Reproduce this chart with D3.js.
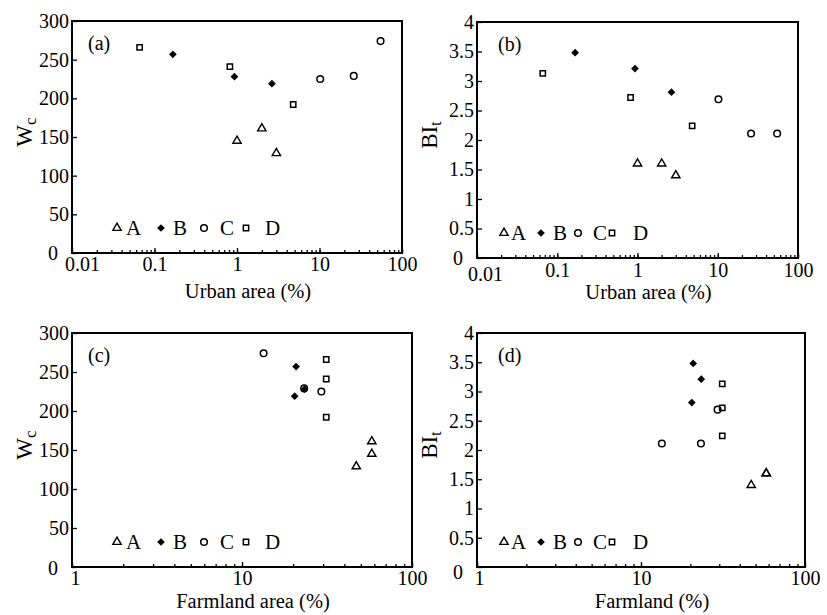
<!DOCTYPE html>
<html>
<head>
<meta charset="utf-8">
<script src="https://cdn.jsdelivr.net/npm/d3@7"></script>
<style>
body { margin: 0; background: #fff; }
text { font-family: "Liberation Serif", serif; }
</style>
</head>
<body>
<svg width="827" height="615"></svg>
<script>
// site groups
var groups = ["A", "B", "C", "D"];

// urban area (%) for the three sites of each group
var urbanA = [1.0, 2.0, 3.0];
var urbanB = [0.167, 0.93, 2.65];
var urbanC = [10.2, 26, 55];
var urbanD = [0.066, 0.82, 4.8];

// farmland area (%)
var farmA = [58, 58, 47];
var farmB = [20.8, 23.3, 20.4];
var farmC = [29.3, 23.2, 13.4];
var farmD = [31.3, 31.3, 31.3];

// Wc
var wcA = [145, 161, 129];
var wcB = [257, 228, 219];
var wcC = [225, 229, 274];
var wcD = [266, 241, 192];

// BIt
var bitA = [1.6, 1.6, 1.4];
var bitB = [3.48, 3.21, 2.81];
var bitC = [2.69, 2.11, 2.11];
var bitD = [3.13, 2.72, 2.24];

// axis ticks
var urbanTicks = [0.01, 0.1, 1, 10, 100];
var farmTicks = [1, 10, 100];
var wcTicks = [0, 50, 100, 150, 200, 250, 300];
var bitTicks = [0, 0.5, 1, 1.5, 2, 2.5, 3, 3.5, 4];

var urban = {A: urbanA, B: urbanB, C: urbanC, D: urbanD};
var farm = {A: farmA, B: farmB, C: farmC, D: farmD};
var wc = {A: wcA, B: wcB, C: wcC, D: wcD};
var bit = {A: bitA, B: bitB, C: bitC, D: bitD};

var svg = d3.select("svg");
var FONT = "'Liberation Serif', serif";

var panels = [
    {tag: "(a)", l: 72, t: 21, r: 402, b: 253, xs: urban, ys: wc, xdom: [0.01, 100], xticks: urbanTicks,
     ymax: 300, yticks: wcTicks, xtitle: "Urban area (%)", ymain: "W", ysub: "c", xpad: 4, firstDx: 10, firstDy: 0, zeroDy: 0, titleDy: 45, col: 0},
    {tag: "(b)", l: 477, t: 22, r: 798, b: 258, xs: urban, ys: bit, xdom: [0.01, 100], xticks: urbanTicks,
     ymax: 4, yticks: bitTicks, xtitle: "Urban area (%)", ymain: "BI", ysub: "t", xpad: 5, firstDx: 8, firstDy: 4, zeroDy: 0, titleDy: 41, col: 1},
    {tag: "(c)", l: 72, t: 333, r: 412, b: 567, xs: farm, ys: wc, xdom: [1, 100], xticks: farmTicks,
     ymax: 300, yticks: wcTicks, xtitle: "Farmland area (%)", ymain: "W", ysub: "c", xpad: 4, firstDx: 3, firstDy: 0, zeroDy: 1, titleDy: 41, col: 0},
    {tag: "(d)", l: 477, t: 333, r: 805, b: 567, xs: farm, ys: bit, xdom: [1, 100], xticks: farmTicks,
     ymax: 4, yticks: bitTicks, xtitle: "Farmland (%)", ymain: "BI", ysub: "t", xpad: 4, firstDx: 2, firstDy: 0, zeroDy: 5, titleDy: 41, col: 1}
];

// legend offsets from the left frame edge: [marker, letter]
var legendPos = [
    {A: [45, 54], B: [89, 101], C: [132, 148], D: [174, 193]},
    {A: [27, 34], B: [64, 76], C: [101, 116], D: [135, 156]}
];

function marker(sel, grp) {
    if (grp == "A") {
        sel.append("path").attr("d", d3.symbol(d3.symbolTriangle, 30)())
            .attr("fill", "none").attr("stroke", "#000").attr("stroke-width", 1.4);
    } else if (grp == "B") {
        sel.append("path").attr("d", d3.symbol(d3.symbolSquare, 30)())
            .attr("transform", "rotate(45)").attr("fill", "#000");
    } else if (grp == "C") {
        sel.append("circle").attr("r", 3.3)
            .attr("fill", "none").attr("stroke", "#000").attr("stroke-width", 1.5);
    } else {
        sel.append("path").attr("d", d3.symbol(d3.symbolSquare, 28)())
            .attr("fill", "none").attr("stroke", "#000").attr("stroke-width", 1.5);
    }
}

function drawPanel(p) {
    var x = d3.scaleLog().domain(p.xdom).range([p.l, p.r]);
    var y = d3.scaleLinear().domain([0, p.ymax]).range([p.b, p.t]);
    var g = svg.append("g");

    // minor x ticks, inside
    var minor = g.append("g").attr("transform", "translate(0," + p.b + ")")
        .call(d3.axisBottom(x).tickValues(x.ticks()).tickSizeInner(-3).tickSizeOuter(0).tickFormat(""));
    minor.select(".domain").remove();
    minor.selectAll("line").attr("stroke-width", 1.3);

    var xa = g.append("g").attr("transform", "translate(0," + p.b + ")")
        .call(d3.axisBottom(x).tickValues(p.xticks).tickSizeInner(-5).tickSizeOuter(0)
            .tickPadding(p.xpad).tickFormat(String));
    xa.select(".domain").remove();
    xa.attr("font-size", 20).attr("font-family", FONT);
    xa.selectAll("line").attr("stroke-width", 1.3);
    xa.select(".tick text").attr("dx", p.firstDx).attr("y", p.xpad + p.firstDy);

    var ya = g.append("g").attr("transform", "translate(" + p.l + ",0)")
        .call(d3.axisLeft(y).tickValues(p.yticks).tickSizeInner(-5).tickSizeOuter(0)
            .tickPadding(3).tickFormat(String));
    ya.select(".domain").remove();
    ya.attr("font-size", 20).attr("font-family", FONT);
    ya.selectAll("line").attr("stroke-width", 1.3);
    // the zero label sits off to the left of the corner
    ya.select(".tick text").attr("dx", -11).attr("y", p.zeroDy);

    // frame
    g.append("rect").attr("x", p.l).attr("y", p.t)
        .attr("width", p.r - p.l).attr("height", p.b - p.t)
        .attr("fill", "none").attr("stroke", "#000").attr("stroke-width", 2);

    // points
    groups.forEach(function(grp) {
        var pts = p.xs[grp].map(function(v, i) { return [v, p.ys[grp][i]]; });
        g.append("g").selectAll("g").data(pts).enter().append("g")
            .attr("transform", function(d) { return "translate(" + x(d[0]) + "," + y(d[1]) + ")"; })
            .each(function() { marker(d3.select(this), grp); });
    });

    // legend
    var ly = p.b - 25;
    groups.forEach(function(grp) {
        var pos = legendPos[p.col][grp];
        var m = g.append("g").attr("transform", "translate(" + (p.l + pos[0]) + "," + ly + ")");
        marker(m, grp);
        g.append("text").attr("x", p.l + pos[1]).attr("y", ly + 7)
            .attr("font-size", 21).text(grp);
    });

    // panel tag
    g.append("text").attr("x", p.l + (p.col ? 21 : 16)).attr("y", p.t + 29)
        .attr("font-size", 20).text(p.tag);

    // x title
    g.append("text").attr("x", (p.l + p.r) / 2 + 11).attr("y", p.b + p.titleDy)
        .attr("text-anchor", "middle").attr("font-size", 20.5).text(p.xtitle);

    // y title with subscript
    var yt = g.append("text")
        .attr("transform", "translate(" + (p.l - 40) + "," + ((p.t + p.b) / 2 - 5) + ")rotate(-90)")
        .attr("text-anchor", "middle").attr("font-size", 23);
    yt.append("tspan").text(p.ymain);
    yt.append("tspan").attr("dy", 4).attr("font-size", 17).text(p.ysub);
}

panels.forEach(drawPanel);
</script>
</body>
</html>
